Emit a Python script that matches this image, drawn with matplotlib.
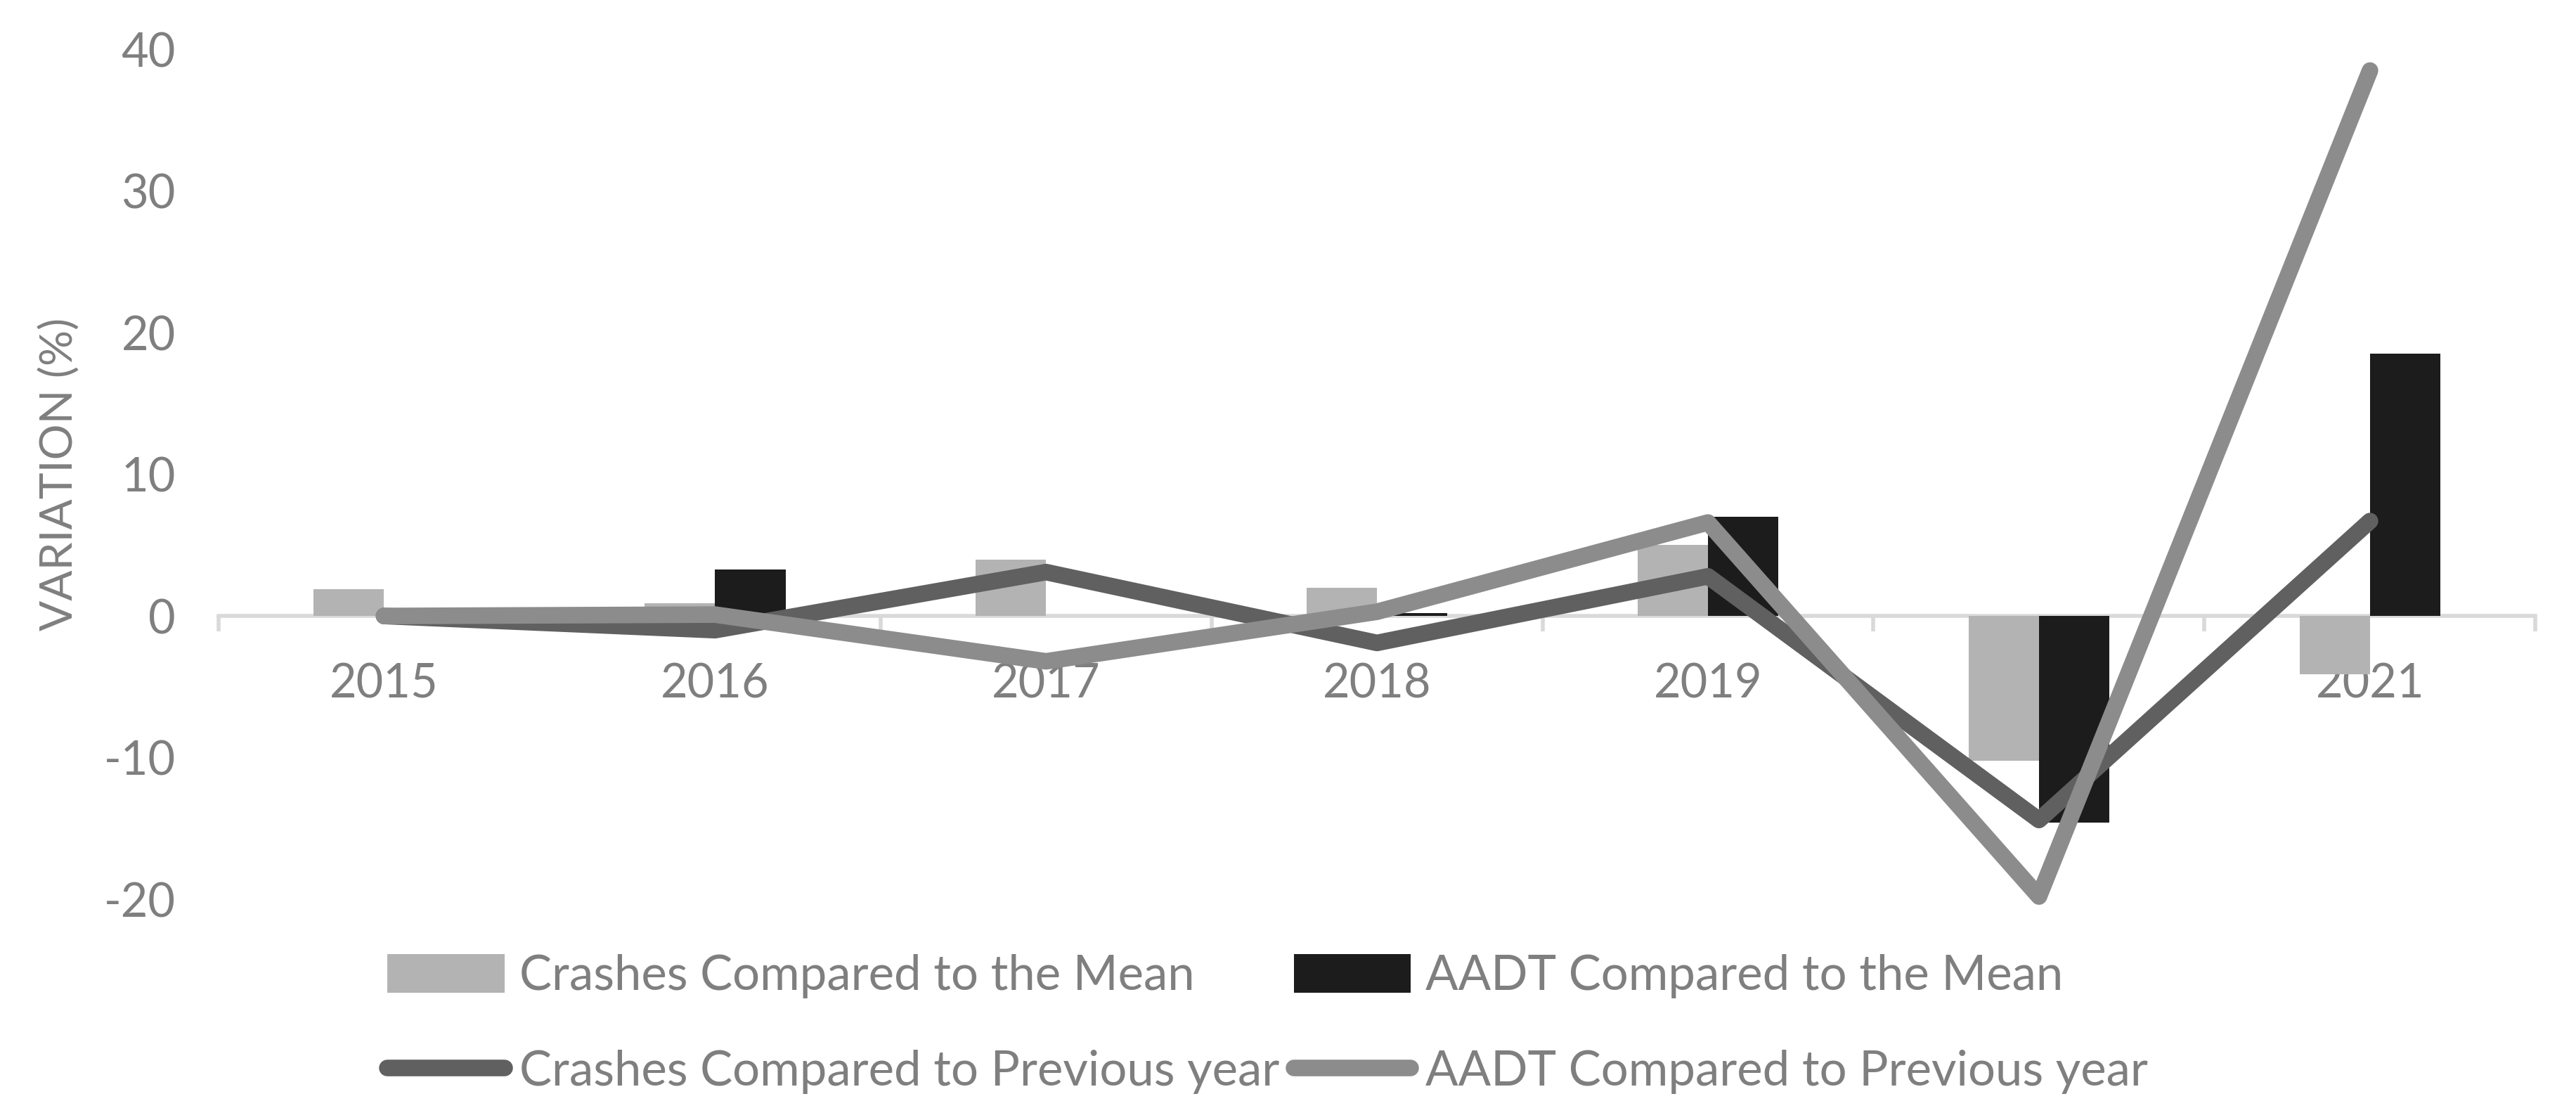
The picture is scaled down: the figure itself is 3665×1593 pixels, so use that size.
import matplotlib
matplotlib.use('agg')
from matplotlib import pyplot as plt
from matplotlib.ticker import FixedLocator
import numpy as np

# data
years = ['2015', '2016', '2017', '2018', '2019', '2020', '2021']
crashes_mean = [1.9, 0.9, 4.0, 2.0, 5.0, -10.2, -4.1]
aadt_mean = [0.0, 3.3, 0.0, 0.2, 7.0, -14.6, 18.5]
crashes_prev = [0.0, -1.0, 3.1, -1.9, 2.8, -14.4, 6.7]
aadt_prev = [0.0, 0.1, -3.2, 0.3, 6.6, -19.8, 38.5]
yticks = [-20, -10, 0, 10, 20, 30, 40]

txt = '#7f7f7f'
plt.rcParams['font.family'] = ['Lato', 'DejaVu Sans']

fig = plt.figure(figsize=(18.33, 7.965), dpi=200)
ax = fig.add_axes([0.0848, 0.197, 0.8992, 0.759])

x = np.arange(len(years))
w = 0.213
b1 = ax.bar(x - w / 2, crashes_mean, w, color='#b3b3b3', zorder=2,
            label='Crashes Compared to the Mean')
b2 = ax.bar(x + w / 2, aadt_mean, w, color='#1c1c1c', zorder=2,
            label='AADT Compared to the Mean')
l1, = ax.plot(x, crashes_prev, color='#606060', lw=8.5, zorder=3,
              solid_capstyle='round', solid_joinstyle='round', clip_on=False,
              label='Crashes Compared to Previous year')
l2, = ax.plot(x, aadt_prev, color='#8c8c8c', lw=8.5, zorder=4,
              solid_capstyle='round', solid_joinstyle='round', clip_on=False,
              label='AADT Compared to Previous year')

ax.set_xlim(-0.5, len(years) - 0.5)
ax.set_ylim(-20, 40)
ax.set_yticks(yticks)
ax.set_yticklabels([str(v) for v in yticks])

for s in ['top', 'right', 'left']:
    ax.spines[s].set_visible(False)
ax.spines['bottom'].set_position(('data', 0))
ax.spines['bottom'].set_color('#d9d9d9')
ax.spines['bottom'].set_linewidth(2)
ax.spines['bottom'].set_zorder(1)

ax.set_xticks(x)
ax.set_xticklabels(years)
ax.xaxis.set_minor_locator(FixedLocator(np.arange(-0.5, len(years), 1.0)))
ax.tick_params(axis='x', which='major', length=0, pad=24, labelsize=24, labelcolor=txt)
ax.tick_params(axis='x', which='minor', length=8, width=2, color='#d9d9d9')
ax.tick_params(axis='y', length=0, pad=22, labelsize=24, labelcolor=txt)

ax.set_ylabel('VARIATION (%)', fontsize=23, color=txt, labelpad=12)

leg = fig.legend([b1, l1, b2, l2],
                 [b1.get_label(), l1.get_label(), b2.get_label(), l2.get_label()],
                 ncol=2, loc='upper left', bbox_to_anchor=(0.141, 0.17),
                 frameon=False, fontsize=24.8, handlelength=2.42, handleheight=0.87,
                 handletextpad=0.3, columnspacing=0.3, labelspacing=1.05,
                 borderpad=0)
for t in leg.get_texts():
    t.set_color(txt)

plt.savefig('out.png', dpi=200)
